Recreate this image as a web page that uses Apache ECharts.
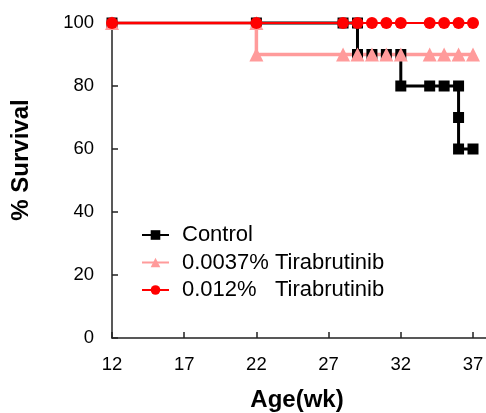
<!DOCTYPE html>
<html>
<head>
<meta charset="utf-8">
<script src="https://cdn.jsdelivr.net/npm/echarts@6/dist/echarts.min.js"></script>
<style>
html,body{margin:0;padding:0;background:#fff;}
#chart{width:486px;height:413px;}
</style>
</head>
<body>
<div id="chart"></div>
<script>
// Data
const seriesNames = ['Control', '0.0037% Tirabrutinib', '0.012%   Tirabrutinib'];
const controlWeeks = [12, 22, 28, 29, 29, 30, 31, 32, 32, 34, 35, 36, 36, 36, 37];
const controlSurvival = [100, 100, 100, 100, 90, 90, 90, 90, 80, 80, 80, 80, 70, 60, 60];
const lowDoseWeeks = [12, 22, 22, 28, 29, 30, 31, 32, 34, 35, 36, 37];
const lowDoseSurvival = [100, 100, 90, 90, 90, 90, 90, 90, 90, 90, 90, 90];
const highDoseWeeks = [12, 22, 28, 29, 30, 31, 32, 34, 35, 36, 37];
const highDoseSurvival = [100, 100, 100, 100, 100, 100, 100, 100, 100, 100, 100];
const xTicks = [12, 17, 22, 27, 32, 37];
const yTicks = [0, 20, 40, 60, 80, 100];

const zip = (xs, ys) => xs.map((x, i) => [x, ys[i]]);
const FONT = 'Liberation Sans, Arial, sans-serif';

const chart = echarts.init(document.getElementById('chart'), null, {renderer: 'canvas'});
chart.setOption({
  animation: false,
  backgroundColor: '#fff',
  grid: {left: 112, right: 0, top: 23, bottom: 75, outerBoundsMode: 'none', containLabel: false},
  xAxis: {
    type: 'value',
    min: 12,
    max: 37.9,
    name: 'Age(wk)',
    nameLocation: 'middle',
    nameGap: 50,
    nameTextStyle: {fontFamily: FONT, fontSize: 24, fontWeight: 'bold', color: '#000', padding: [0, 4, 0, 0]},
    axisLine: {lineStyle: {color: '#222', width: 1.5}},
    axisTick: {inside: true, length: 6, lineStyle: {color: '#222', width: 1.5}, customValues: xTicks},
    axisLabel: {fontFamily: FONT, fontSize: 18.5, color: '#000', margin: 17, customValues: xTicks},
    splitLine: {show: false}
  },
  yAxis: {
    type: 'value',
    min: yTicks[0],
    max: yTicks[yTicks.length - 1],
    interval: 20,
    axisLine: {show: true, lineStyle: {color: '#222', width: 1.5}},
    axisTick: {show: true, inside: true, length: 6, lineStyle: {color: '#222', width: 1.5}},
    axisLabel: {fontFamily: FONT, fontSize: 18.5, color: '#000', margin: 18},
    splitLine: {show: false}
  },
  graphic: [{
    type: 'text',
    x: 21,
    y: 160,
    rotation: Math.PI / 2,
    style: {
      text: '% Survival',
      fontFamily: FONT,
      fontSize: 24,
      fontWeight: 'bold',
      fill: '#000',
      align: 'center',
      verticalAlign: 'middle'
    }
  }],
  legend: {
    orient: 'vertical',
    left: 141,
    top: 224,
    padding: 0,
    itemWidth: 27,
    itemHeight: 12,
    itemGap: 5.5,
    textStyle: {fontFamily: FONT, fontSize: 22, color: '#000', padding: [0, 0, 0, 8]},
    data: seriesNames
  },
  series: [
    {
      name: seriesNames[0],
      type: 'line',
      data: zip(controlWeeks, controlSurvival),
      symbol: 'rect',
      symbolSize: 11,
      clip: false,
      lineStyle: {color: '#000', width: 3},
      itemStyle: {color: '#000'}
    },
    {
      name: seriesNames[1],
      type: 'line',
      data: zip(lowDoseWeeks, lowDoseSurvival),
      symbol: 'triangle',
      symbolSize: [14, 14],
      clip: false,
      lineStyle: {color: '#FF9B9B', width: 3.5},
      itemStyle: {color: '#FF9B9B'}
    },
    {
      name: seriesNames[2],
      type: 'line',
      data: zip(highDoseWeeks, highDoseSurvival),
      symbol: 'circle',
      symbolSize: 12,
      clip: false,
      lineStyle: {color: '#FF0000', width: 2},
      itemStyle: {color: '#FF0000'}
    }
  ]
});
</script>
</body>
</html>
